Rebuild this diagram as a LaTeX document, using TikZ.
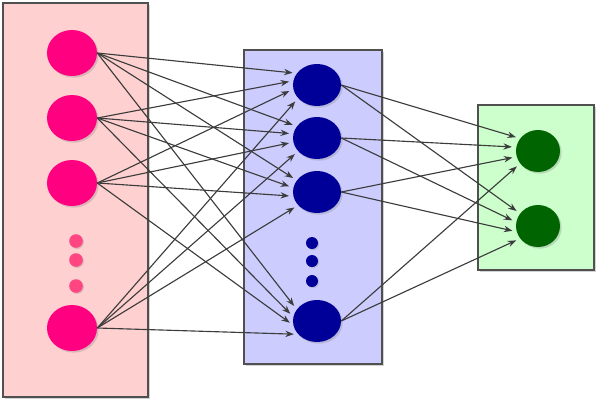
\documentclass[tikz,border=0pt]{standalone}
\usetikzlibrary{shapes.geometric,shadows,arrows.meta}

\definecolor{inbg}{RGB}{255,208,208}
\definecolor{inball}{RGB}{255,0,128}
\definecolor{indot}{RGB}{255,70,130}
\definecolor{hidbg}{RGB}{204,204,255}
\definecolor{hidball}{RGB}{0,0,153}
\definecolor{outbg}{RGB}{204,255,204}
\definecolor{outball}{RGB}{0,100,0}
\definecolor{framegray}{RGB}{80,80,80}
\definecolor{wiregray}{RGB}{60,60,60}

\begin{document}
\begin{tikzpicture}[x=0.025cm,y=-0.025cm,
  layer/.style={draw=framegray,line width=2pt,inner sep=0pt,
    drop shadow={opacity=0.35,shadow xshift=1.5pt,shadow yshift=-1.5pt}},
  neuron/.style={ellipse,inner sep=0pt,
    drop shadow={opacity=0.3,shadow xshift=1.2pt,shadow yshift=-1.2pt}},
  dotnode/.style={circle,inner sep=0pt,minimum size=0.34cm,
    drop shadow={opacity=0.3,shadow xshift=0.8pt,shadow yshift=-0.8pt}},
  wire/.style={draw=wiregray,line width=0.8pt,-{Stealth[length=6pt,width=4.5pt]},shorten >=3pt}]
\useasboundingbox (0,0) rectangle (600,404);

% layers
\node (inbox) [layer,fill=inbg,minimum width=3.625cm,minimum height=9.85cm] at (75.5,200) {};
\node (hidbox) [layer,fill=hidbg,minimum width=3.45cm,minimum height=7.85cm] at (313,207) {};
\node (outbox) [layer,fill=outbg,minimum width=2.9cm,minimum height=4.125cm] at (536,187.5) {};

% input neurons
\foreach \n/\y in {1/53,2/118,3/183,4/328}
  \node (i\n) [neuron,fill=inball,minimum width=1.25cm,minimum height=1.15cm] at (72,\y) {};
\foreach \n/\y in {1/241,2/260,3/286}
  \node (id\n) [dotnode,fill=indot] at (76,\y) {};

% hidden neurons
\foreach \n/\y in {1/85,2/138,3/192,4/321}
  \node (h\n) [neuron,fill=hidball,minimum width=1.2cm,minimum height=1.05cm] at (317,\y) {};
\foreach \n/\y in {1/243,2/261,3/281}
  \node (hd\n) [dotnode,fill=hidball,minimum size=0.3cm] at (312,\y) {};

% output neurons
\foreach \n/\y in {1/151,2/226}
  \node (o\n) [neuron,fill=outball,minimum width=1.1cm,minimum height=1.05cm] at (538,\y) {};

% connections
\foreach \a/\ang in {1/150,2/170,3/190,4/215}
  \foreach \b in {1,...,4}
    \draw[wire] (i\a.east) -- (h\b.\ang);
\foreach \a/\ang in {1/145,2/170,3/195,4/215}
  \foreach \b in {1,2}
    \draw[wire] (h\a.east) -- (o\b.\ang);

\end{tikzpicture}
\end{document}
